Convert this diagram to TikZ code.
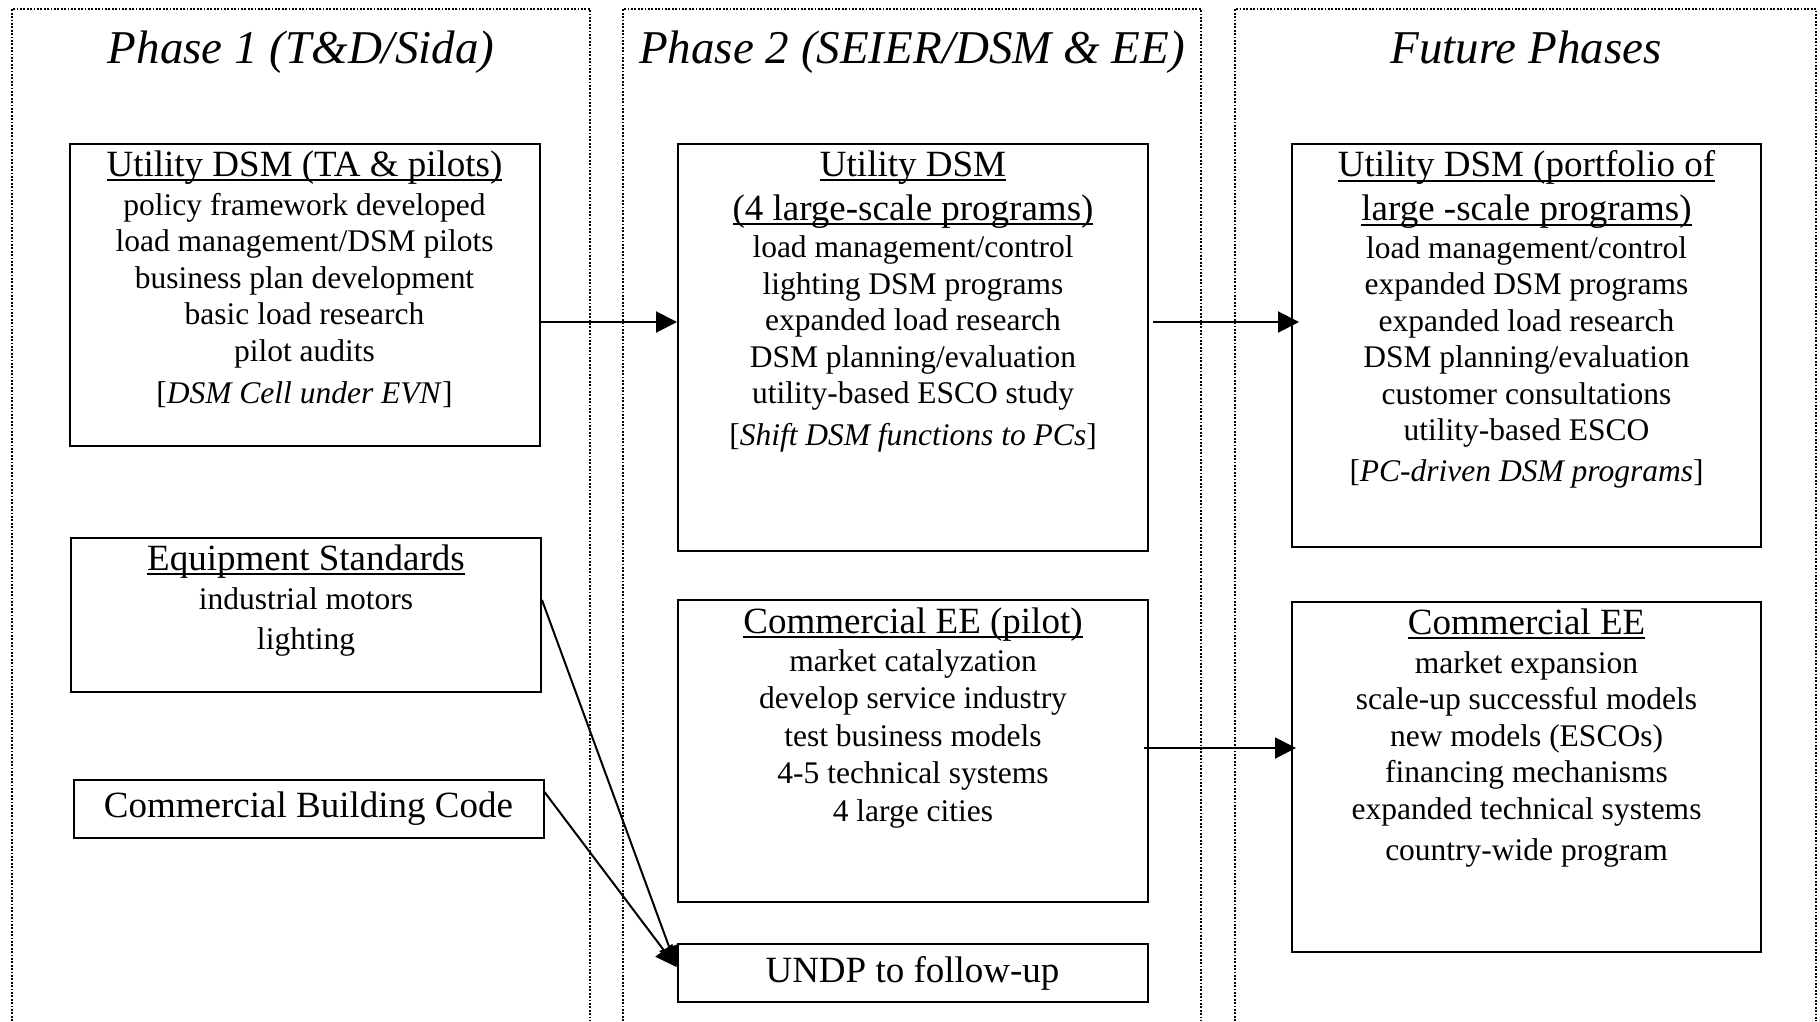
\documentclass[tikz,border=0pt]{standalone}
\usepackage{fontspec}
\setmainfont{Liberation Serif}
\usetikzlibrary{arrows.meta,positioning}
\newsavebox\undlbox
\newcommand{\undl}[1]{\sbox\undlbox{#1}\rlap{\rule[-5pt]{\wd\undlbox}{2pt}}\usebox\undlbox}
\newcommand{\headfnt}{\fontsize{37}{44}\selectfont}
\newcommand{\bodyfnt}{\fontsize{31.5}{36.5}\selectfont}
\newcommand{\titlefnt}{\fontsize{47}{56}\selectfont\itshape}

\begin{document}
\begin{tikzpicture}[x=1pt,y=-1pt,
  phase/.style={line width=1.8pt, dash pattern=on 1.8pt off 1.6pt},
  box/.style={draw, line width=2pt, inner sep=0pt},
  txt/.style={align=center, inner sep=0pt, font=\bodyfnt},
  arr/.style={line width=2pt, -{Triangle[length=21pt,width=21pt]}}]
\useasboundingbox (0,0) rectangle (1820,1021);
\xdef\boxw{470}
% phase columns
\draw[phase] (12,1021) |- (590,9) -- (590,1021);
\draw[phase] (623,1021) |- (1201,9) -- (1201,1021);
\draw[phase] (1235,1021) |- (1816,9) -- (1816,1021);
\node[font=\titlefnt, anchor=base] (t1) at (301,63) {Phase 1 (T\&D/Sida)};
\node[font=\titlefnt, anchor=base] (t2) at (912,63) {Phase 2 (SEIER/DSM \& EE)};
\node[font=\titlefnt, anchor=base] (t3) at (1526,63) {Future Phases};
% phase 1
\node[box, minimum width=\boxw pt, minimum height=302pt] (u1) at (304.5,295) {};
\node[txt, below=7.5pt of u1.north] (u1t) {{\headfnt\undl{Utility DSM (TA \& pilots)}}\\[2.5pt]
  policy framework developed\\
  load management/DSM pilots\\
  business plan development\\
  basic load research\\
  pilot audits\\[5.5pt]
  {[}\textit{DSM Cell under EVN}]};
\node[box, minimum width=\boxw pt, minimum height=154pt] (eq) at (306,615) {};
\node[txt, below=7.5pt of eq.north] (eqt) {{\headfnt\undl{Equipment Standards}}\\[3pt]
  industrial motors\\[3pt]
  lighting};
\node[box, font=\headfnt, minimum width=\boxw pt, minimum height=58pt] (cbc) at (308.5,809) {Commercial Building Code};
% phase 2
\node[box, minimum width=\boxw pt, minimum height=407pt] (u2) at (913,347.5) {};
\node[txt, below=7.5pt of u2.north] (u2t) {{\headfnt\undl{Utility DSM}}\\[7.5pt]
  {\headfnt\undl{(4 large-scale programs)}}\\[1pt]
  load management/control\\
  lighting DSM programs\\
  expanded load research\\
  DSM planning/evaluation\\
  utility-based ESCO study\\[5.5pt]
  {[}\textit{Shift DSM functions to PCs}]};
\node[box, minimum width=\boxw pt, minimum height=302pt] (ce) at (913,751) {};
\node[txt, below=8.5pt of ce.north] (cet) {{\headfnt\undl{Commercial EE (pilot)}}\\[1.5pt]
  market catalyzation\\[1pt]
  develop service industry\\[1pt]
  test business models\\[1pt]
  4-5 technical systems\\[1pt]
  4 large cities};
\node[box, font=\headfnt, minimum width=\boxw pt, minimum height=58pt] (undp) at (912.5,973) {UNDP to follow-up};
% future phases
\node[box, minimum width=469pt, minimum height=403pt] (u3) at (1526.5,345.5) {};
\node[txt, below=7.5pt of u3.north] (u3t) {{\headfnt\undl{Utility DSM (portfolio of}}\\[7.5pt]
  {\headfnt\undl{large -scale programs)}}\\[1pt]
  load management/control\\
  expanded DSM programs\\
  expanded load research\\
  DSM planning/evaluation\\
  customer consultations\\
  utility-based ESCO\\[4pt]
  {[}\textit{PC-driven DSM programs}]};
\node[box, minimum width=469pt, minimum height=350pt] (ce3) at (1526.5,777) {};
\node[txt, below=7.5pt of ce3.north] (ce3t) {{\headfnt\undl{Commercial EE}}\\[2.5pt]
  market expansion\\
  scale-up successful models\\
  new models (ESCOs)\\
  financing mechanisms\\
  expanded technical systems\\[5pt]
  country-wide program};
% arrows
\coordinate (r1) at (0,322);
\coordinate (r2) at (0,748);
\coordinate (m) at ([yshift=6pt]undp.west);
\draw[arr] (u1.east |- r1) -- (u2.west |- r1);
\draw[arr, shorten <=4pt, shorten >=-8pt] (u2.east |- r1) -- (u3.west |- r1);
\draw[arr, shorten <=-5pt, shorten >=-5pt] (ce.east |- r2) -- (ce3.west |- r2);
\draw[arr] ([yshift=15pt]eq.east) -- (m);
\draw[arr] ([yshift=17pt]cbc.east) -- (m);
\end{tikzpicture}
\end{document}
